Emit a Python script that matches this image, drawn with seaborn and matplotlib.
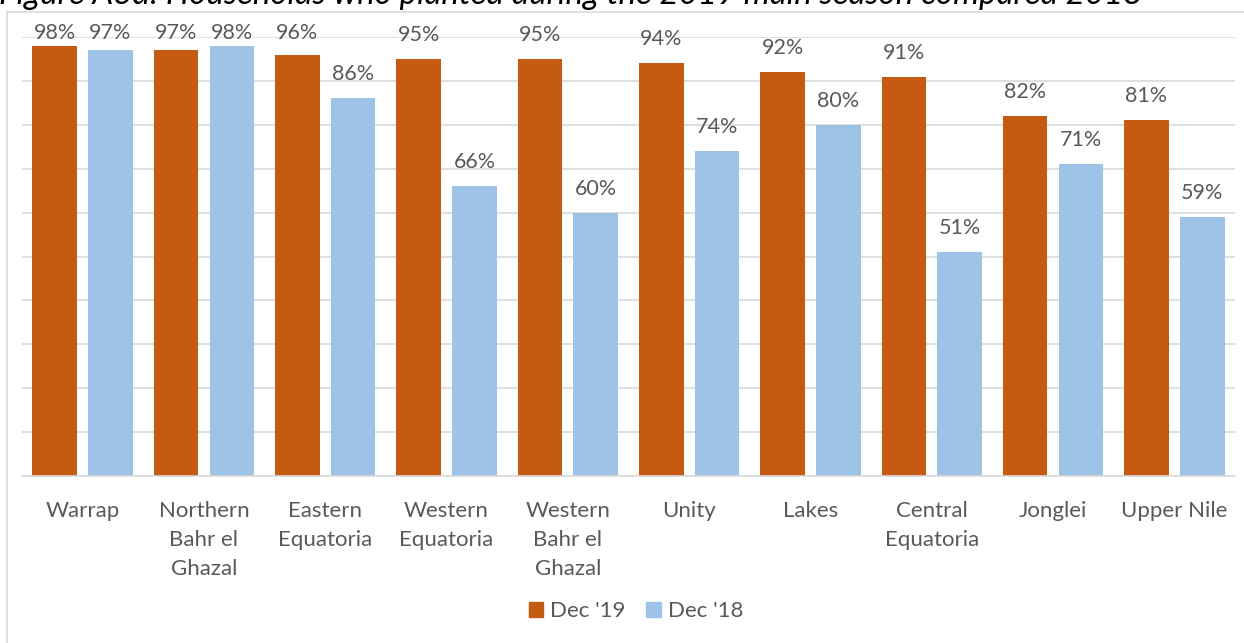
import matplotlib
matplotlib.use("Agg")
import matplotlib.pyplot as plt
import matplotlib.patches as mpatches
import seaborn as sns
import pandas as pd

regions = ["Warrap", "Northern\nBahr el\nGhazal", "Eastern\nEquatoria", "Western\nEquatoria",
           "Western\nBahr el\nGhazal", "Unity", "Lakes", "Central\nEquatoria", "Jonglei", "Upper Nile"]
dec19 = [0.98, 0.97, 0.96, 0.95, 0.95, 0.94, 0.92, 0.91, 0.82, 0.81]
dec18 = [0.97, 0.98, 0.86, 0.66, 0.60, 0.74, 0.80, 0.51, 0.71, 0.59]
series = ["Dec '19", "Dec '18"]
colors = ["#C55A11", "#9DC3E6"]
title = "Figure A3d: Households who planted during the 2019 main season compared 2018"

df = pd.DataFrame({
    "region": regions * 2,
    "value": dec19 + dec18,
    "series": [series[0]] * len(regions) + [series[1]] * len(regions),
})

sns.set_theme(style="white")
plt.rcParams["font.family"] = ["Lato", "DejaVu Sans"]
text_color = "#595959"
grid_color = "#D9D9D9"

W, H = 1244, 643
DPI = 100
fig = plt.figure(figsize=(W / DPI, H / DPI), dpi=DPI)
ax = fig.add_axes([22 / W, 1 - 476 / H, (1235 - 22) / W, (476 - 37) / H])

sns.barplot(data=df, x="region", y="value", hue="series", palette=colors,
            width=0.92, gap=0.2, ax=ax, legend=False, saturation=1, linewidth=0)

ax.set_ylim(0, 1)
ax.set_xlim(-0.5, len(regions) - 0.5)
ax.set_yticks([i / 10 for i in range(11)])
ax.yaxis.grid(True, color=grid_color, linewidth=1.2)
ax.set_axisbelow(True)
ax.set_yticklabels([])
ax.tick_params(axis="y", length=0)
ax.tick_params(axis="x", length=0, pad=18, labelsize=16, labelcolor=text_color)
for s in ["top", "right", "left"]:
    ax.spines[s].set_visible(False)
ax.spines["bottom"].set_color(grid_color)
ax.spines["bottom"].set_linewidth(1.2)
ax.set_xlabel("")
ax.set_ylabel("")
for lbl in ax.get_xticklabels():
    lbl.set_linespacing(1.55)
    lbl.set_verticalalignment("top")

# value labels: baseline ~18 px above the bar, but kept inside the chart area
min_baseline_from_top = 39  # px
for cont in ax.containers:
    for bar, v in zip(cont, cont.datavalues):
        xc = bar.get_x() + bar.get_width() / 2
        _, ytop = ax.transData.transform((xc, v))
        top_from_top = H - ytop
        gap_px = min(18, top_from_top - min_baseline_from_top)
        ax.annotate(f"{v * 100:.0f}%", xy=(xc, v), xytext=(0, gap_px * 72 / DPI),
                    textcoords="offset points", ha="center", va="baseline",
                    fontsize=15.5, color=text_color)

handles = [mpatches.Patch(color=c, label=s) for c, s in zip(colors, series)]
fig.legend(handles=handles, loc="center", bbox_to_anchor=(636 / W, 1 - 611 / H),
           ncol=2, frameon=False, fontsize=16, labelcolor=text_color,
           handlelength=0.65, handleheight=0.65, handletextpad=0.3, columnspacing=0.95)

fig.patches.append(mpatches.Rectangle((7 / W, -0.05), 1.2, 1 - 12 / H + 0.05,
                                      transform=fig.transFigure, fill=False,
                                      edgecolor=grid_color, linewidth=1.2))
fig.text(-1 / W, 1 - 4 / H, title, fontsize=23.8, style="italic", color="black",
         ha="left", va="baseline")

fig.savefig("out.png", dpi=DPI)
